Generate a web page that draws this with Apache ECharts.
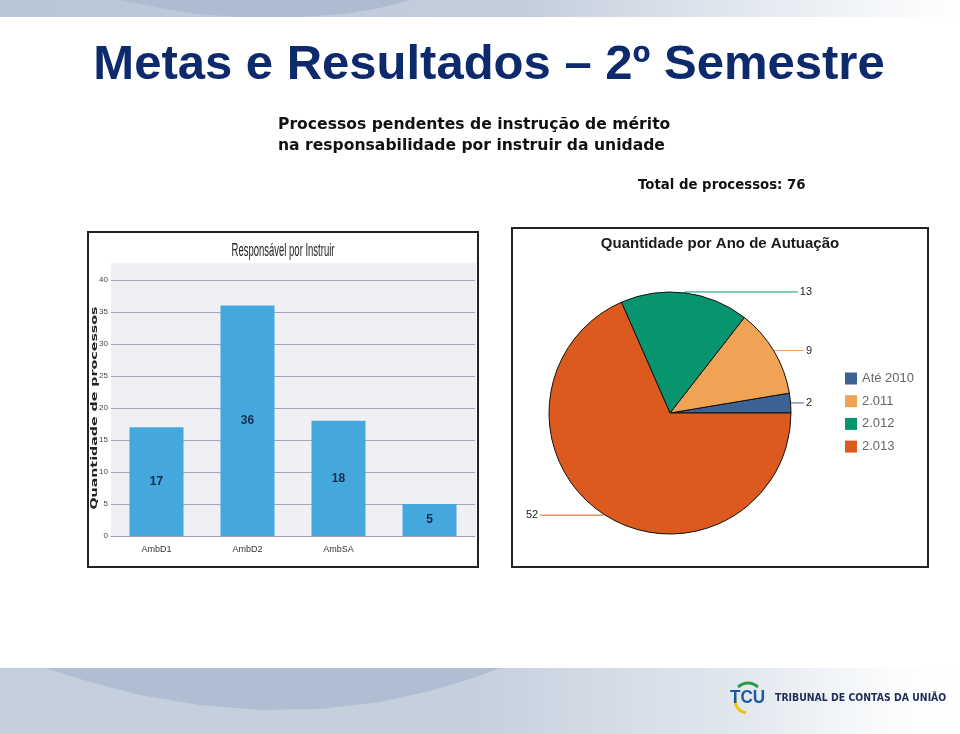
<!DOCTYPE html>
<html><head><meta charset="utf-8">
<script src="https://cdn.jsdelivr.net/npm/echarts@6/dist/echarts.min.js"></script>
<style>html,body{margin:0;padding:0;background:#fff}#c{width:960px;height:734px}</style>
</head><body><div id="c"></div>
<script>
// ---- data ----
const barCategories = ['AmbD1', 'AmbD2', 'AmbSA', ''];
const barValues = [17, 36, 18, 5];
const yAxisMin = 0, yAxisMax = 40, yAxisStep = 5;
const pieNames = ['Até 2010', '2.011', '2.012', '2.013'];
const pieValues = [2, 9, 13, 52];
const pieColors = ['#3b6394', '#f0a355', '#07946f', '#dd5a1f'];
const mainTitle = 'Metas e Resultados – 2º Semestre';
const subTitle1 = 'Processos pendentes de instrução de mérito';
const subTitle2 = 'na responsabilidade por instruir da unidade';
const totalText = 'Total de processos: 76';

const chart = echarts.init(document.getElementById('c'));
const sans = '"Liberation Sans", Arial, sans-serif';

chart.setOption({
  animation: false,
  backgroundColor: '#ffffff',
  graphic: [
    // top banner
    { type: 'rect', z: -100, shape: { x: 0, y: 0, width: 960, height: 17 },
      style: { fill: new echarts.graphic.LinearGradient(0, 0, 1, 0, [
        { offset: 0, color: '#b9c6d8' }, { offset: 0.55, color: '#c4cfdd' },
        { offset: 0.8, color: '#e6ebf1' }, { offset: 1, color: '#ffffff' }]) } },
    { type: 'polygon', z: -99, shape: { points: [[120, 0], [410, 0], [380, 8], [345, 14], [300, 17], [240, 17], [195, 14], [160, 8]] },
      style: { fill: '#aebcd0' } },
    // bottom banner
    { type: 'rect', z: -100, shape: { x: 0, y: 668, width: 960, height: 66 },
      style: { fill: new echarts.graphic.LinearGradient(0, 0, 1, 0, [
        { offset: 0, color: '#c3cfdd' }, { offset: 0.5, color: '#c6d1de' },
        { offset: 0.75, color: '#dfe5ed' }, { offset: 0.93, color: '#fbfcfd' }, { offset: 1, color: '#ffffff' }]) } },
    { type: 'polygon', z: -99, shape: { points: [[45, 668], [500, 668], [470, 679], [430, 691], [380, 702], [320, 709], [260, 710], [200, 705], [140, 695], [90, 682]] },
      style: { fill: '#afbed1' } },
    // titles
    { type: 'text', x: 489, y: 65, style: { text: mainTitle, font: 'bold 49px ' + sans,
      fill: '#0d2a6d', textAlign: 'center', textVerticalAlign: 'middle' } },
    { type: 'text', x: 278, y: 125, style: { text: subTitle1, font: 'bold 15.6px "DejaVu Sans", sans-serif',
      fill: '#111111', textAlign: 'left', textVerticalAlign: 'middle' } },
    { type: 'text', x: 278, y: 146, style: { text: subTitle2, font: 'bold 15.6px "DejaVu Sans", sans-serif',
      fill: '#111111', textAlign: 'left', textVerticalAlign: 'middle' } },
    { type: 'text', x: 638, y: 186, style: { text: totalText, font: 'bold 13.3px "DejaVu Sans", sans-serif',
      fill: '#111111', textAlign: 'left', textVerticalAlign: 'middle' } },
    // bar chart box
    { type: 'rect', z: -50, shape: { x: 88, y: 232, width: 390, height: 335 },
      style: { fill: '#ffffff', stroke: '#222', lineWidth: 2 } },
    { type: 'rect', z: -40, shape: { x: 111, y: 263, width: 365, height: 273 },
      style: { fill: '#efeff4' } },
    { type: 'text', x: 283, y: 251, scaleX: 0.5, style: { text: 'Responsável por Instruir', font: '19px ' + sans,
      fill: '#222', textAlign: 'center', textVerticalAlign: 'middle' } },
    { type: 'text', x: 95, y: 408, rotation: Math.PI / 2, scaleX: 1.58,
      style: { text: 'Quantidade de processos', font: 'bold 9px "DejaVu Sans", sans-serif',
      fill: '#222', textAlign: 'center', textVerticalAlign: 'middle' } },
    // pie chart box
    { type: 'rect', z: -50, shape: { x: 512, y: 228, width: 416, height: 339 },
      style: { fill: '#ffffff', stroke: '#222', lineWidth: 2 } },
    { type: 'text', x: 720, y: 244, style: { text: 'Quantidade por Ano de Autuação', font: 'bold 15px ' + sans,
      fill: '#1a1a1a', textAlign: 'center', textVerticalAlign: 'middle' } },
    // footer logo
    { type: 'arc', z: 5, shape: { cx: 748, cy: 700, r: 13, startAngle: Math.PI * 0.55, endAngle: Math.PI * 1.05 },
      style: { stroke: '#f2c200', lineWidth: 3, fill: null } },
    { type: 'arc', z: 5, shape: { cx: 748, cy: 697, r: 14, startAngle: Math.PI * 1.25, endAngle: Math.PI * 1.75 },
      style: { stroke: '#2e9a48', lineWidth: 3, fill: null } },
    { type: 'text', z: 6, x: 730, y: 698, scaleX: 0.9, style: { text: 'TCU', font: 'bold 19px ' + sans,
      fill: '#1c5aa8', textAlign: 'left', textVerticalAlign: 'middle' } },
    { type: 'text', x: 775, y: 698, scaleX: 0.85, style: { text: 'TRIBUNAL DE CONTAS DA UNIÃO', font: 'bold 11px "DejaVu Sans", sans-serif',
      fill: '#1d2b58', textAlign: 'left', textVerticalAlign: 'middle' } }
  ],
  grid: { left: 111, right: 485, top: 280, bottom: 198 },
  xAxis: {
    type: 'category', data: barCategories,
    axisLine: { show: true, lineStyle: { color: '#9c9cb4', width: 1 } },
    axisTick: { show: false },
    axisLabel: { color: '#333', fontFamily: sans, fontSize: 9, margin: 9 }
  },
  yAxis: {
    type: 'value', min: yAxisMin, max: yAxisMax, interval: yAxisStep,
    axisLine: { show: false }, axisTick: { show: false },
    axisLabel: { color: '#444', fontFamily: sans, fontSize: 8, margin: 3 },
    splitLine: { lineStyle: { color: '#a4a4bb', width: 1 } }
  },
  legend: {
    orient: 'vertical', left: 845, top: 372, padding: 0, itemWidth: 12, itemHeight: 12, itemGap: 9.7,
    icon: 'rect', data: pieNames, itemStyle: { borderWidth: 0 },
    textStyle: { color: '#666', fontFamily: sans, fontSize: 13 }
  },
  series: [
    {
      type: 'bar', data: barValues, barWidth: 54,
      itemStyle: { color: '#45a8dc' },
      label: { show: true, position: 'inside', color: '#1b2a4e', fontFamily: sans, fontWeight: 'bold', fontSize: 12 },
      emphasis: { disabled: true }
    },
    {
      type: 'pie', left: 521, top: 227, width: 296, height: 340,
      center: [149, 186], radius: 121, startAngle: 0, clockwise: false,
      avoidLabelOverlap: true,
      data: pieNames.map((n, i) => ({ name: n, value: pieValues[i], itemStyle: { color: pieColors[i] } })),
      itemStyle: { borderColor: '#111', borderWidth: 1 },
      label: { show: true, formatter: '{c}', color: '#222', fontFamily: sans, fontSize: 11,
        alignTo: 'edge', edgeDistance: 5, distanceToLabelLine: 2 },
      labelLine: { show: true, length: 1, length2: 10, smooth: false, lineStyle: { width: 1 } },
      emphasis: { disabled: true }
    }
  ]
});
</script>
</body></html>
